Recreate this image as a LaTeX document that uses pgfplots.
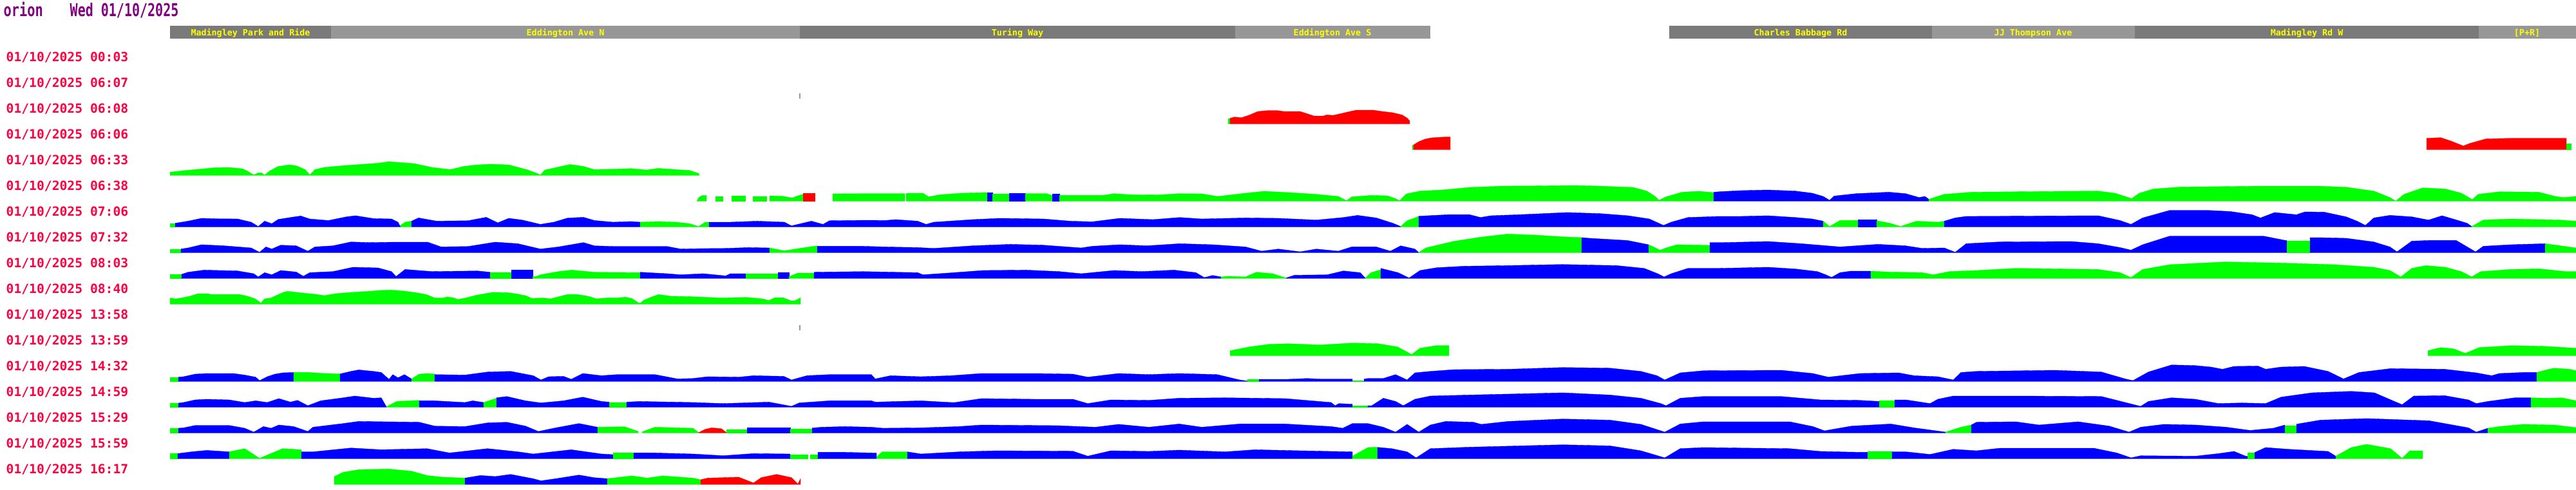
\documentclass[border=0pt]{standalone}
\usepackage{graphicx}
\usepackage{pgfplots}
\pgfplotsset{compat=1.18}
\usepackage{fontspec}
\newfontfamily\pix{DejaVu Sans Mono}
\definecolor{gb}{RGB}{0,255,0}
\definecolor{bb}{RGB}{0,0,255}
\definecolor{rb}{RGB}{255,0,0}
\definecolor{hdark}{RGB}{122,122,122}
\definecolor{hlight}{RGB}{151,151,151}
\definecolor{hyel}{RGB}{255,255,0}
\definecolor{labred}{RGB}{255,0,64}
\definecolor{tpurp}{RGB}{128,0,128}
% one coloured stretch of a journey row: colour, baseline (px from top), (x, height) points
\newcommand\seg[3]{\addplot[fill=#1, draw=#1, line width=0.1pt, y filter/.expression={y-#2}] coordinates {#3};}
\newcommand\hdr[3]{\addplot[fill=#1, draw=none] coordinates {(#2,-40) (#3,-40) (#3,-60) (#2,-60)};}
\newcommand\hlab[2]{\node[anchor=base, inner sep=0pt, text=hyel, font=\pix\bfseries\fontsize{3.8}{4}\selectfont] at (axis cs:#1,-55) {#2};}
\newcommand\lab[2]{\node[anchor=base west, inner sep=0pt, text=labred, font=\pix\bfseries\fontsize{5.6}{6}\selectfont] at (axis cs:9,#1) {01/10/2025 #2};}
\begin{document}
\begin{tikzpicture}
\begin{axis}[x=0.1mm, y=0.1mm, xmin=0, xmax=4000, ymin=-760, ymax=0, hide axis]
\addplot[draw=none] coordinates {(0,0) (4000,-760)};
% title
\node[anchor=base west, inner sep=0pt, text=tpurp, font=\pix\bfseries\fontsize{7.8}{8}\selectfont] at (axis cs:5,-25) {\scalebox{0.74}[1]{orion}};
\node[anchor=base west, inner sep=0pt, text=tpurp, font=\pix\bfseries\fontsize{7.8}{8}\selectfont] at (axis cs:108,-25) {\scalebox{0.73}[1]{Wed 01/10/2025}};
% stop header
\hdr{hdark}{264}{514} \hdr{hlight}{514}{1242} \hdr{hdark}{1242}{1918} \hdr{hlight}{1918}{2221}
\hdr{hdark}{2592}{3000} \hdr{hlight}{3000}{3315} \hdr{hdark}{3315}{3849} \hdr{hlight}{3849}{4000}
\hlab{389}{Madingley Park and Ride} \hlab{878}{Eddington Ave N} \hlab{1580}{Turing Way} \hlab{2069}{Eddington Ave S}
\hlab{2796}{Charles Babbage Rd} \hlab{3157}{JJ Thompson Ave} \hlab{3582}{Madingley Rd W} \hlab{3924}{[P+R]}
% journey start times
\lab{-95}{00:03} \lab{-135}{06:07} \lab{-175}{06:08} \lab{-215}{06:06} \lab{-255}{06:33} \lab{-295}{06:38}
\lab{-335}{07:06} \lab{-375}{07:32} \lab{-415}{08:03} \lab{-455}{08:40} \lab{-495}{13:58} \lab{-535}{13:59}
\lab{-575}{14:32} \lab{-615}{14:59} \lab{-655}{15:29} \lab{-695}{15:59} \lab{-735}{16:17}
% row 06:07 and 13:58 markers
\addplot[draw=hlight, line width=0.3pt, y filter/.expression={y-152.7}] coordinates {(1242,0) (1242,8)};
\addplot[draw=hlight, line width=0.3pt, y filter/.expression={y-512.7}] coordinates {(1242,0) (1242,8)};
% 06:08
\seg{gb}{192.7}{(1907,0)(1907,8)(1910,9)(1910,0)}
\seg{rb}{192.7}{(1910,0)(1910,9)(1917,11)(1928,10)(1940,14)(1953,19.5)(1968,21)(1984,21)(1994,19.5)(2019,19.5)(2030,16)(2040,12.7)(2055,12.7)(2060,14.3)(2070,13.5)(2081,16)(2096,19.5)(2106,21.7)(2132,21.7)(2147,19.5)(2162,17.8)(2177,14.3)(2185,9.3)(2189,5)(2189,0)}
% 06:06
\seg{gb}{232.7}{(2193,0)(2193,7)(2195,7.7)(2195,0)}
\seg{rb}{232.7}{(2195,0)(2195,7.7)(2203,12.7)(2213,16.7)(2223,18.7)(2244,20)(2252,20)(2252,0)}
\seg{rb}{232.7}{(3768,0)(3768,18)(3790,19)(3805,14)(3825,6)(3835,10)(3860,17)(3900,18)(3985,18)(3985,0)}
\seg{gb}{232.7}{(3985,0)(3985,10)(3992,10)(3992,0)}
% 06:33
\seg{gb}{272.7}{(264,0)(264,5.3)(285,7.7)(313,10.3)(334,12.3)(355,12.7)(376,10.7)(383,7.7)(394,1)(401,4.3)(406,4.3)(411,0.7)(418,6.7)(432,14.3)(450,16.7)(460,15.3)(474,9.3)(481,1)(489,9.3)(503,12.7)(531,15.3)(559,17.3)(587,19.3)(604,21.7)(622,20.3)(643,18.7)(671,12.7)(688,10.7)(699,9.3)(720,14.3)(741,16.7)(762,17.7)(790,16.7)(818,9.3)(836,2.7)(839,0.7)(846,8.7)(867,13.3)(885,17.3)(906,14.3)(923,9.3)(952,10)(980,11)(1004,8.7)(1022,11.3)(1050,9.3)(1071,8)(1085,3.3)(1086,0)}
% 06:38
\seg{gb}{312.7}{(1082,0)(1085,6)(1090,9)(1097,9.3)(1097,0)}
\seg{gb}{312.7}{(1111,0)(1111,7.7)(1122,7.7)(1122,0)}
\seg{gb}{312.7}{(1136,0)(1136,8.7)(1157,8.7)(1157,0)}
\seg{gb}{312.7}{(1169,0)(1169,7.7)(1190,7.7)(1190,0)}
\seg{gb}{312.7}{(1195,0)(1195,8.7)(1215,8)(1230,5.3)(1240,9)(1247,11)(1247,0)}
\seg{rb}{312.7}{(1247,0)(1247,12.7)(1265,12.7)(1265,0)}
\seg{gb}{312.7}{(1293,0)(1293,11.7)(1340,12)(1405,12)(1405,0)}
\seg{gb}{312.7}{(1407,0)(1407,12.7)(1433,12.7)(1442,7)(1459,10.3)(1493,12.7)(1533,13.7)(1533,0)}
\seg{bb}{312.7}{(1533,0)(1533,13.7)(1541,13.7)(1541,0)}
\seg{gb}{312.7}{(1541,0)(1541,12)(1567,12)(1567,0)}
\seg{bb}{312.7}{(1567,0)(1567,12.7)(1592,12.7)(1592,0)}
\seg{gb}{312.7}{(1592,0)(1592,12)(1625,12)(1634,9.3)(1634,0)}
\seg{bb}{312.7}{(1634,0)(1634,11.7)(1645,11.7)(1645,0)}
\seg{gb}{312.7}{(1645,0)(1645,9.3)(1713,9.3)(1730,12)(1756,10.3)(1798,10)(1832,12)(1866,11.7)(1891,7.7)(1934,12.7)(1963,15.7)(2002,13.7)(2044,11)(2078,7.7)(2091,1)(2099,7)(2129,9.3)(2154,8.7)(2167,4.3)(2173,1)(2184,11.7)(2205,16)(2239,17.7)(2282,21.7)(2332,23.7)(2383,24)(2443,24.7)(2485,23.7)(2536,21.7)(2557,16)(2570,7.7)(2576,1.7)(2587,7)(2612,14.3)(2638,15.7)(2661,13.7)(2661,0)}
\seg{bb}{312.7}{(2661,0)(2661,14.3)(2670,15)(2703,16.7)(2745,17.7)(2788,16)(2814,12.7)(2831,7.7)(2841,1.7)(2848,8.3)(2882,12)(2933,14.3)(2959,12)(2980,6)(2989,7.7)(2995,3.3)(2995,0)}
\seg{gb}{312.7}{(2995,0)(2995,3.3)(3019,11)(3062,14.3)(3130,15)(3258,16)(3284,12.7)(3305,6)(3310,4.3)(3322,12.7)(3344,19.3)(3386,22.3)(3515,23.7)(3600,23.7)(3643,22)(3686,16)(3711,6)(3720,0.5)(3733,11)(3762,21)(3797,19.3)(3822,12.7)(3839,2.7)(3848,11)(3882,15)(3942,14.3)(3968,7.7)(3980,6)(4000,7.7)(4000,0)}
% 07:06
\seg{gb}{352.7}{(264,0)(264,6)(272,6)(272,0)}
\seg{bb}{352.7}{(272,0)(272,6)(292,9.3)(313,13.7)(334,13)(369,12.7)(390,7.7)(401,1)(411,9.3)(422,5.3)(432,12)(453,15.3)(467,17.3)(481,12.7)(510,10.3)(538,16)(552,17.7)(580,13.3)(608,12.7)(618,7.7)(622,0.3)(622,0)}
\seg{gb}{352.7}{(622,0)(622,3)(630,8)(639,9.3)(639,0)}
\seg{bb}{352.7}{(639,0)(639,9.3)(650,14.3)(678,9.3)(727,10)(755,15.3)(773,6.7)(790,13.7)(811,11)(832,6)(839,4.3)(860,7.7)(881,14)(906,15.3)(923,10.3)(952,7.7)(980,8.7)(994,7.7)(994,0)}
\seg{gb}{352.7}{(994,0)(994,7.7)(1022,8.7)(1050,7.7)(1071,5.3)(1085,1)(1095,7.7)(1101,7.7)(1101,0)}
\seg{bb}{352.7}{(1101,0)(1101,7.7)(1134,7.7)(1176,9.3)(1218,7.7)(1229,2)(1260,9.3)(1278,4.3)(1288,10)(1350,10.7)(1374,10.3)(1391,11.7)(1425,9.3)(1438,4.3)(1450,7.7)(1510,11.7)(1552,13.7)(1620,12.7)(1662,9.3)(1696,8.3)(1739,13.7)(1790,11.7)(1832,15)(1866,12.7)(1934,14.3)(1985,13.7)(2044,11)(2086,15)(2108,18.3)(2137,14.3)(2163,6)(2175,1)(2175,0)}
\seg{gb}{352.7}{(2175,0)(2175,1)(2185,10)(2197,14.3)(2203,17)(2203,0)}
\seg{bb}{352.7}{(2203,0)(2203,17)(2248,19.3)(2282,19.3)(2299,15)(2315,17.7)(2358,19.3)(2434,22.7)(2485,21)(2528,17.7)(2561,12.7)(2583,2.7)(2595,7.7)(2621,15)(2670,16.7)(2703,16.7)(2745,17.7)(2788,15)(2814,12.7)(2831,9.3)(2831,0)}
\seg{gb}{352.7}{(2831,0)(2831,9.3)(2841,1)(2857,10.3)(2885,10.3)(2885,0)}
\seg{bb}{352.7}{(2885,0)(2885,11.7)(2914,11.7)(2914,0)}
\seg{gb}{352.7}{(2914,0)(2914,10)(2935,6)(2951,1)(2976,9.3)(3010,7.7)(3019,9.3)(3019,0)}
\seg{bb}{352.7}{(3019,0)(3019,9.3)(3036,14.3)(3053,16.7)(3258,17.7)(3292,10.3)(3309,4.3)(3327,14.3)(3369,26)(3429,26)(3463,24.3)(3497,19.3)(3510,14.3)(3532,22.7)(3566,19.3)(3579,23.7)(3609,23.3)(3643,16)(3660,9.3)(3673,2.7)(3686,14.3)(3711,18.3)(3745,16)(3771,11)(3792,17.7)(3809,12.7)(3831,6)(3838,1)(3838,0)}
\seg{gb}{352.7}{(3838,0)(3838,1)(3856,11)(3899,12.7)(3942,11.7)(3976,11)(4000,9.3)(4000,0)}
% 07:32
\seg{gb}{392.7}{(264,0)(264,6)(281,6)(281,0)}
\seg{bb}{392.7}{(281,0)(281,6)(292,7.7)(313,12.7)(348,11)(390,7.7)(403,1)(413,9.3)(422,6)(436,12)(460,11)(478,2.7)(489,9.3)(517,11)(545,17)(573,16)(615,16.7)(664,16.7)(685,9.3)(727,10)(769,16.7)(804,14.3)(832,7.7)(839,6)(867,9.3)(906,16)(923,11)(952,10)(1036,10)(1057,6)(1092,6.7)(1127,7)(1162,8.3)(1195,7.7)(1195,0)}
\seg{gb}{392.7}{(1195,0)(1195,7.7)(1218,3.3)(1246,7.7)(1269,11)(1269,0)}
\seg{bb}{392.7}{(1269,0)(1269,10.3)(1340,10.3)(1374,9.3)(1425,8.3)(1450,7)(1510,11)(1569,13.3)(1620,12)(1679,7.7)(1696,10.3)(1739,12.7)(1781,11)(1832,14.3)(1883,12.7)(1934,9.3)(1959,2.7)(1985,6)(2019,1.7)(2044,6)(2078,2.7)(2099,9.3)(2137,9.3)(2159,2.7)(2175,11)(2197,6)(2203,0.5)(2203,0)}
\seg{gb}{392.7}{(2203,0)(2203,0.5)(2214,7.7)(2256,17.7)(2298,24.3)(2341,29.3)(2383,27.7)(2426,25)(2456,23.7)(2456,0)}
\seg{bb}{392.7}{(2456,0)(2456,23.7)(2468,22.7)(2527,19.3)(2560,12.7)(2560,0)}
\seg{gb}{392.7}{(2560,0)(2560,12.7)(2578,4.3)(2587,7.7)(2604,12.7)(2655,11.7)(2655,0)}
\seg{bb}{392.7}{(2655,0)(2655,16)(2677,16)(2745,17.7)(2797,14.3)(2857,9.3)(2916,13.3)(2959,11)(2985,7)(3019,7.7)(3036,1)(3053,14.3)(3104,17)(3216,17.7)(3258,14.3)(3292,8.3)(3309,4.3)(3327,12.7)(3369,26)(3515,26)(3549,19.3)(3551,19.3)(3551,0)}
\seg{gb}{392.7}{(3551,0)(3551,18.3)(3587,18.3)(3587,0)}
\seg{bb}{392.7}{(3587,0)(3587,23.7)(3600,23.7)(3643,22.7)(3686,17)(3711,9.3)(3722,1.7)(3745,18.3)(3771,19.3)(3814,19.3)(3831,9.3)(3844,1.7)(3856,10.3)(3899,12.7)(3952,14.3)(3952,0)}
\seg{gb}{392.7}{(3952,0)(3952,14.3)(3976,11)(4000,7.7)(4000,0)}
% 08:03
\seg{gb}{432.7}{(264,0)(264,6.7)(282,6.7)(282,0)}
\seg{bb}{432.7}{(282,0)(282,6.7)(292,10)(317,13.3)(369,12)(394,7.7)(401,2.7)(411,9.3)(422,6)(436,12.7)(460,10.3)(471,3.7)(481,9.3)(517,11)(548,17.7)(587,16.7)(608,11)(615,3.3)(629,14.3)(671,11)(741,12)(761,10)(761,0)}
\seg{gb}{432.7}{(761,0)(761,10)(794,10)(794,0)}
\seg{bb}{432.7}{(794,0)(794,13.3)(827,13.3)(827,0)}
\seg{gb}{432.7}{(827,0)(827,3)(832,3.3)(839,6)(867,11)(888,13.3)(923,10)(987,9.3)(994,9.3)(994,0)}
\seg{bb}{432.7}{(994,0)(994,10)(1036,7.7)(1057,6)(1092,7.7)(1127,4.3)(1134,7.7)(1158,7.7)(1158,0)}
\seg{gb}{432.7}{(1158,0)(1158,7.7)(1208,7.7)(1208,0)}
\seg{bb}{432.7}{(1208,0)(1208,9.3)(1225,9.3)(1225,0)}
\seg{gb}{432.7}{(1225,0)(1225,3)(1239,8.7)(1264,8.7)(1264,0)}
\seg{bb}{432.7}{(1264,0)(1264,10)(1340,11)(1425,9.3)(1433,6)(1467,8.3)(1527,12.7)(1594,13.3)(1645,11)(1679,7.7)(1730,12.7)(1773,11)(1823,13.3)(1857,9.3)(1870,1.7)(1883,5)(1896,2.7)(1896,0)}
\seg{gb}{432.7}{(1896,0)(1896,2.7)(1908,3.7)(1934,2.7)(1951,10)(1976,7.7)(1997,1)(1997,0)}
\seg{bb}{432.7}{(1997,0)(1997,1)(2010,5.3)(2061,6)(2086,12)(2112,9.3)(2120,1)(2120,0)}
\seg{gb}{432.7}{(2120,0)(2120,1)(2129,9.3)(2142,13.3)(2144,13.3)(2144,0)}
\seg{bb}{432.7}{(2144,0)(2144,16)(2171,9.3)(2188,1)(2205,12.7)(2231,17)(2273,19.3)(2341,20.3)(2426,22)(2510,20.3)(2553,16)(2574,7.7)(2584,2.7)(2595,7.7)(2621,16)(2670,16)(2745,17.7)(2788,15)(2822,11)(2835,6)(2844,2)(2857,9.3)(2874,11.7)(2905,11.7)(2905,0)}
\seg{gb}{432.7}{(2905,0)(2905,11.7)(2933,10.3)(2985,9.3)(3002,6)(3027,11)(3070,12.7)(3130,16)(3258,14.3)(3292,9.3)(3309,1.7)(3327,14.3)(3369,21.7)(3455,26)(3540,24.3)(3626,21.7)(3686,17.7)(3711,12.7)(3728,2.7)(3745,16)(3767,20.3)(3797,17.7)(3822,11)(3838,2.7)(3852,11)(3899,14.3)(3942,15.3)(3985,11)(4000,11)(4000,0)}
% 08:40
\seg{gb}{472.7}{(264,0)(264,10)(273,8.7)(282,10)(295,12.7)(308,16.7)(324,16.7)(327,15.3)(372,15.3)(382,13.3)(395,9.3)(401,5.3)(405,2)(411,8.7)(421,10)(430,14.3)(440,18.7)(446,20.3)(456,19.3)(469,17.7)(488,16)(504,13.7)(521,16.7)(546,18.7)(572,20.3)(591,21.7)(607,22.3)(624,21)(643,18.7)(662,15.3)(675,10)(688,10)(694,11.7)(704,10.3)(711,7.7)(720,9.3)(740,14.3)(765,18.7)(788,18.3)(804,16)(817,13.3)(826,9.3)(843,10)(855,8.7)(868,12)(881,15.3)(897,15.3)(913,12.7)(926,8.7)(946,10.3)(958,10)(971,11.3)(981,9.3)(991,2.7)(994,1.7)(1000,6.7)(1013,12)(1023,15.3)(1042,12.7)(1074,12)(1120,10)(1158,11)(1184,8.7)(1194,6)(1203,10.3)(1216,10.3)(1229,5.3)(1235,6)(1243,10.3)(1243,0)}
% 13:59
\seg{gb}{552.7}{(1910,0)(1910,8)(1940,14)(1970,18)(2000,19)(2050,17)(2100,20)(2140,19)(2170,14)(2185,6)(2192,2)(2205,12)(2230,16)(2250,16)(2250,0)}
\seg{gb}{552.7}{(3770,0)(3770,8)(3790,13)(3810,11)(3828,4)(3850,13)(3900,16)(3950,15)(4000,12)(4000,0)}
% 14:32
\seg{gb}{592.7}{(264,0)(264,7)(277,7)(277,0)}
\seg{bb}{592.7}{(277,0)(277,7)(285,7.7)(303,11.7)(321,12.7)(362,12.7)(380,10.3)(397,7)(403,1.7)(415,7.7)(427,11.7)(439,13.7)(456,14.3)(456,0)}
\seg{gb}{592.7}{(456,0)(456,14.3)(480,14.3)(500,13)(528,12)(528,0)}
\seg{bb}{592.7}{(528,0)(528,12)(545,16)(557,18.3)(580,16)(592,14.3)(604,3.7)(610,11)(618,6)(628,11)(639,4.3)(639,0)}
\seg{gb}{592.7}{(639,0)(639,4.3)(651,11.7)(663,12.7)(675,12)(675,0)}
\seg{bb}{592.7}{(675,0)(675,11)(722,10.3)(757,15)(793,16)(828,9.3)(840,2.7)(852,7.7)(875,8.3)(887,3.7)(905,12.7)(934,9.3)(958,11)(1017,11)(1052,4.3)(1076,5)(1099,7.7)(1147,7)(1170,9.3)(1217,8.3)(1229,2.7)(1253,9.3)(1288,11)(1353,11)(1359,4.3)(1383,9.3)(1430,7.7)(1477,9.3)(1524,12.7)(1607,12.7)(1666,11.7)(1689,7)(1737,12.7)(1784,11)(1831,12.7)(1890,11)(1925,2.7)(1937,1)(1937,0)}
\seg{gb}{592.7}{(1937,0)(1937,3.7)(1955,3.7)(1955,0)}
\seg{bb}{592.7}{(1955,0)(1955,3.7)(2000,3.7)(2030,5)(2050,4)(2100,4)(2100,0)}
\seg{gb}{592.7}{(2100,0)(2100,2)(2118,2)(2118,0)}
\seg{bb}{592.7}{(2118,0)(2118,4)(2124,5)(2148,5)(2167,11)(2185,2.7)(2197,13.7)(2221,16)(2258,18.7)(2342,19.3)(2427,22)(2500,21)(2548,16)(2573,9.3)(2585,2.7)(2609,13.7)(2645,17)(2766,17.7)(2815,12.7)(2839,7)(2888,12.7)(2948,13.7)(2972,9.3)(3009,7.7)(3033,2.7)(3045,14.3)(3069,16)(3191,17.7)(3263,15)(3300,4.3)(3312,1.7)(3336,15)(3372,26)(3409,25)(3433,22.7)(3451,19.3)(3469,23.7)(3506,24.3)(3518,19.3)(3542,22.7)(3578,23.7)(3615,16)(3639,4.3)(3663,14.3)(3712,20.3)(3796,19.3)(3845,13.7)(3869,9.3)(3881,12.7)(3918,14.3)(3939,14.3)(3939,0)}
\seg{gb}{592.7}{(3939,0)(3939,14.3)(3954,18.3)(3966,21)(3990,19.3)(4000,17)(4000,0)}
% 14:59
\seg{gb}{632.7}{(264,0)(264,6.7)(277,6.7)(277,0)}
\seg{bb}{632.7}{(277,0)(277,6.7)(285,7.7)(303,11.7)(321,12.7)(356,11.7)(380,7.7)(397,10.3)(415,7.7)(433,13.7)(451,8.3)(462,11)(478,2.7)(498,10.3)(533,15)(551,17.7)(580,14.3)(592,15)(600,1)(600,0)}
\seg{gb}{632.7}{(600,0)(600,1)(616,9.3)(651,11)(651,0)}
\seg{bb}{632.7}{(651,0)(651,10.3)(675,10.3)(722,7.7)(734,10.3)(751,7.7)(751,0)}
\seg{gb}{632.7}{(751,0)(751,7.7)(771,14.3)(771,0)}
\seg{bb}{632.7}{(771,0)(771,15)(787,17)(816,10.3)(840,7)(875,10.3)(905,16)(934,9.3)(946,8.3)(946,0)}
\seg{gb}{632.7}{(946,0)(946,7.7)(973,7.7)(973,0)}
\seg{bb}{632.7}{(973,0)(973,8.3)(993,9.3)(1076,7.7)(1123,6)(1194,8.3)(1229,1.7)(1241,7)(1288,10.3)(1353,10.3)(1359,8.3)(1430,10.3)(1477,7.7)(1483,7.7)(1524,13.7)(1607,12.7)(1666,12.7)(1689,6)(1725,11.7)(1784,11)(1831,14.3)(1902,15)(1996,13.7)(2067,7.7)(2073,2.7)(2079,6)(2100,5)(2100,0)}
\seg{gb}{632.7}{(2100,0)(2100,2.7)(2124,2.7)(2124,0)}
\seg{bb}{632.7}{(2124,0)(2124,2.7)(2130,2.7)(2148,14.3)(2167,9.3)(2179,2.7)(2197,12.7)(2221,17.7)(2282,19.3)(2427,22.7)(2500,19.3)(2548,14.3)(2579,6)(2587,2.7)(2609,14.3)(2645,17)(2766,17)(2827,11.7)(2888,11)(2918,9.3)(2918,0)}
\seg{gb}{632.7}{(2918,0)(2918,10.3)(2942,10.3)(2942,0)}
\seg{bb}{632.7}{(2942,0)(2942,11.7)(2960,11.7)(2997,6)(3009,12.7)(3033,17.7)(3130,17.7)(3263,17)(3300,7.7)(3324,1.7)(3336,9.3)(3372,15)(3409,12.7)(3445,6)(3481,7)(3518,6)(3542,16)(3590,22.7)(3651,25)(3687,22.7)(3718,9.3)(3730,4.3)(3748,17.7)(3796,18.3)(3833,11.7)(3845,6)(3863,9.3)(3881,11.7)(3905,15)(3930,15)(3930,0)}
\seg{gb}{632.7}{(3930,0)(3930,15)(3954,14.3)(3978,15)(4000,10.3)(4000,0)}
% 15:29
\seg{gb}{672.7}{(264,0)(264,7.7)(277,7.7)(277,0)}
\seg{bb}{672.7}{(277,0)(277,7.7)(285,8.3)(303,12)(356,12)(380,7.7)(394,1.7)(409,10.3)(421,7.7)(433,12.7)(456,10.3)(478,2.7)(486,9.3)(533,15)(557,18.3)(651,17)(675,11)(722,10.3)(757,16)(787,17)(816,11)(836,2.7)(863,8.3)(899,15)(928,9.3)(928,0)}
\seg{gb}{672.7}{(928,0)(928,9.3)(970,10)(991,2.7)(991,0)}
\seg{gb}{672.7}{(997,0)(997,2)(1017,9.3)(1076,7.7)(1085,1)(1085,0)}
\seg{rb}{672.7}{(1085,0)(1085,1)(1095,6)(1105,8.3)(1120,7)(1128,1)(1128,0)}
\seg{gb}{672.7}{(1128,0)(1128,6)(1160,6)(1160,0)}
\seg{bb}{672.7}{(1160,0)(1160,8.3)(1227,8.3)(1227,0)}
\seg{gb}{672.7}{(1227,0)(1227,7)(1261,7)(1261,0)}
\seg{bb}{672.7}{(1261,0)(1261,8)(1276,9.3)(1312,10.3)(1353,9.3)(1371,7.7)(1430,8.3)(1489,10.3)(1524,12.7)(1642,11.7)(1701,9.3)(1737,13.7)(1784,9.3)(1831,14.3)(1866,9.3)(1925,14.3)(1996,14.3)(2067,10.3)(2085,7.7)(2100,15)(2124,15)(2148,9.3)(2167,1.7)(2185,13.7)(2203,1.7)(2221,12.7)(2245,18.3)(2288,17)(2300,13.7)(2342,18.3)(2427,22)(2500,20.3)(2548,13.7)(2585,1.7)(2609,14.3)(2645,17.7)(2779,17.7)(2815,10.3)(2833,3.7)(2875,11)(2936,14.3)(2972,8.3)(3021,1.7)(3021,0)}
\seg{gb}{672.7}{(3021,0)(3021,1.7)(3045,9.3)(3061,12.7)(3061,0)}
\seg{bb}{672.7}{(3061,0)(3061,12.7)(3069,17)(3130,17.7)(3166,12.7)(3227,17.7)(3275,11)(3306,1.7)(3324,9.3)(3360,13.7)(3409,12.7)(3457,9.3)(3494,4.3)(3530,7.7)(3548,12.7)(3548,0)}
\seg{gb}{672.7}{(3548,0)(3548,12)(3566,12)(3566,0)}
\seg{bb}{672.7}{(3566,0)(3566,14)(3603,20.3)(3675,22.7)(3772,19.3)(3833,8.3)(3845,1.7)(3863,7.7)(3863,0)}
\seg{gb}{672.7}{(3863,0)(3863,7.7)(3881,10.3)(3918,13.7)(3966,12.7)(4000,8.7)(4000,0)}
% 15:59
\seg{gb}{712.7}{(264,0)(264,8.3)(276,8.3)(276,0)}
\seg{bb}{712.7}{(276,0)(276,8.3)(297,11)(321,13.3)(356,11)(356,0)}
\seg{gb}{712.7}{(356,0)(356,11)(380,16)(403,1)(439,16)(468,14.3)(468,0)}
\seg{bb}{712.7}{(468,0)(468,11)(486,11)(545,17)(592,14.3)(663,16)(698,9.3)(757,16)(805,11)(828,7.7)(887,14.3)(934,7.7)(952,6.7)(952,0)}
\seg{gb}{712.7}{(952,0)(952,9.3)(984,9.3)(984,0)}
\seg{bb}{712.7}{(984,0)(984,9.3)(1017,9.3)(1076,7.7)(1123,5)(1170,8.3)(1227,7.7)(1227,0)}
\seg{gb}{712.7}{(1227,0)(1227,7)(1254,7)(1254,0)}
\seg{gb}{712.7}{(1258,0)(1258,7)(1270,7)(1270,0)}
\seg{bb}{712.7}{(1270,0)(1270,10.3)(1312,10.3)(1353,9.3)(1361,9)(1361,0)}
\seg{gb}{712.7}{(1361,0)(1361,3)(1370,11)(1409,11)(1409,0)}
\seg{bb}{712.7}{(1409,0)(1409,11)(1430,7.7)(1489,11)(1548,12.7)(1666,12)(1689,4.3)(1725,12.7)(1784,11.7)(1831,13.7)(1902,11)(1949,14.3)(2020,12.7)(2100,11)(2100,0)}
\seg{gb}{712.7}{(2100,0)(2100,4.3)(2124,17.7)(2139,18.3)(2139,0)}
\seg{bb}{712.7}{(2139,0)(2139,18)(2161,16)(2185,11)(2199,1.7)(2221,16)(2282,18.3)(2427,22)(2500,20.3)(2548,12.7)(2585,1.7)(2609,16)(2645,17.7)(2779,16)(2827,11.7)(2888,10.3)(2900,10.3)(2900,0)}
\seg{gb}{712.7}{(2900,0)(2900,11.7)(2938,11.7)(2938,0)}
\seg{bb}{712.7}{(2938,0)(2938,11)(2960,11)(2997,7)(3033,15)(3069,12.7)(3106,16.7)(3251,16.7)(3287,9.3)(3309,1.7)(3324,5)(3409,4.3)(3445,8.3)(3469,11.7)(3487,4.3)(3490,4)(3490,0)}
\seg{gb}{712.7}{(3490,0)(3490,9.3)(3501,9.3)(3501,0)}
\seg{bb}{712.7}{(3501,0)(3501,10)(3518,17.7)(3554,15)(3615,11.7)(3627,4.3)(3627,0)}
\seg{gb}{712.7}{(3627,0)(3627,4.3)(3651,17.7)(3675,22.7)(3712,16)(3730,1)(3742,12.7)(3762,12.7)(3762,0)}
% 16:17
\seg{gb}{752.7}{(519,0)(519,12.7)(533,19.3)(557,23.3)(604,24.3)(639,21)(663,14.3)(687,11.7)(722,10.3)(722,0)}
\seg{bb}{752.7}{(722,0)(722,10.3)(746,14.3)(769,12.7)(793,16)(828,9.3)(840,6)(863,9.3)(899,15)(922,11)(943,9.3)(943,0)}
\seg{gb}{752.7}{(943,0)(943,9.3)(981,13.7)(1005,10.3)(1029,13.7)(1076,10.3)(1088,7.7)(1088,0)}
\seg{rb}{752.7}{(1088,0)(1088,7.7)(1099,10.3)(1147,11.7)(1170,2.7)(1182,11)(1206,16)(1229,11)(1239,1)(1243,9.3)(1243,0)}
\end{axis}
\end{tikzpicture}
\end{document}
